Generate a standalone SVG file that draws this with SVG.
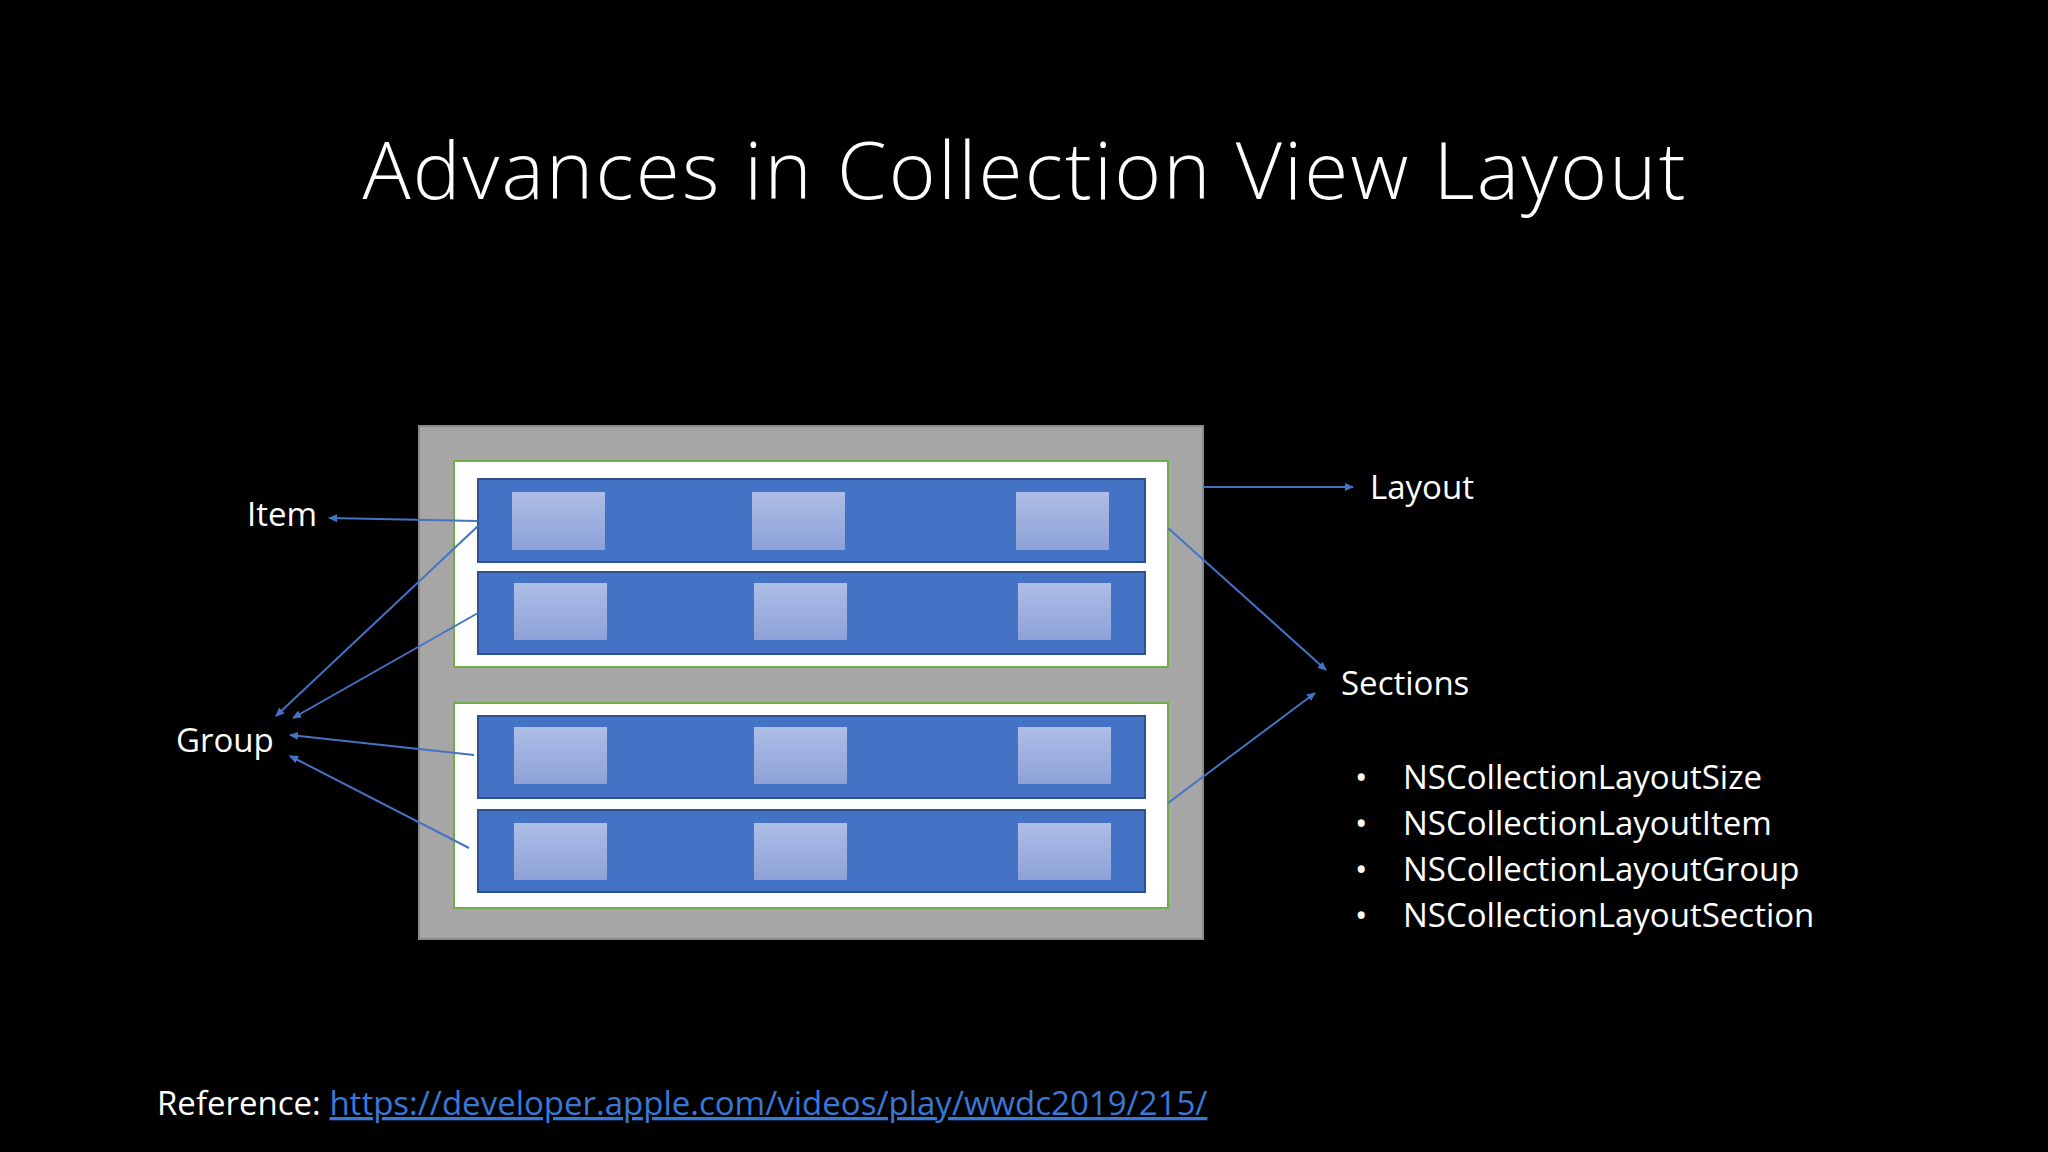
<svg xmlns="http://www.w3.org/2000/svg" width="2048" height="1152" viewBox="0 0 2048 1152">
<defs>
<linearGradient id="ig" x1="0" y1="0" x2="0" y2="1"><stop offset="0" stop-color="#aebde6"/><stop offset="1" stop-color="#8ea2d8"/></linearGradient>
<marker id="ah" markerWidth="10" markerHeight="10" refX="8" refY="5" orient="auto" markerUnits="userSpaceOnUse"><path d="M0,1 L9,5 L0,9 Z" fill="#4472c4"/></marker>
<style>
text{font-family:"Open Sans","Noto Sans",sans-serif;fill:#fff}
.lbl{font-size:33px}
.sec{fill:#fff;stroke:#70ad47;stroke-width:2}
.grp{fill:#4472c4;stroke:#2f528f;stroke-width:2}
.it{fill:url(#ig)}
.c{stroke:#4472c4;stroke-width:2;fill:none;marker-end:url(#ah)}
</style>
</defs>
<rect width="2048" height="1152" fill="#000"/>
<text x="1024" y="199" font-size="80" font-weight="300" text-anchor="middle" textLength="1323">Advances in Collection View Layout</text>
<g id="layout"><rect x="419" y="426" width="784" height="513" fill="#a6a6a6" stroke="#8a8a8a" stroke-width="2"/></g>
<g id="section1"><rect class="sec" x="454" y="461" width="714" height="206"/></g>
<g id="section2"><rect class="sec" x="454" y="703" width="714" height="205"/></g>
<g id="group1"><rect class="grp" x="478" y="479" width="667" height="83"/>
<rect class="it" x="512" y="492" width="93" height="58"/><rect class="it" x="752" y="492" width="93" height="58"/><rect class="it" x="1016" y="492" width="93" height="58"/></g>
<g id="group2"><rect class="grp" x="478" y="572" width="667" height="82"/>
<rect class="it" x="514" y="583" width="93" height="57"/><rect class="it" x="754" y="583" width="93" height="57"/><rect class="it" x="1018" y="583" width="93" height="57"/></g>
<g id="group3"><rect class="grp" x="478" y="716" width="667" height="82"/>
<rect class="it" x="514" y="727" width="93" height="57"/><rect class="it" x="754" y="727" width="93" height="57"/><rect class="it" x="1018" y="727" width="93" height="57"/></g>
<g id="group4"><rect class="grp" x="478" y="810" width="667" height="82"/>
<rect class="it" x="514" y="823" width="93" height="57"/><rect class="it" x="754" y="823" width="93" height="57"/><rect class="it" x="1018" y="823" width="93" height="57"/></g>
<g id="connectors">
<line class="c" x1="478" y1="521" x2="329" y2="518"/>
<line class="c" x1="478" y1="526" x2="276" y2="716"/>
<line class="c" x1="478" y1="613" x2="293" y2="718"/>
<line class="c" x1="474" y1="755" x2="290" y2="735"/>
<line class="c" x1="469" y1="848" x2="290" y2="756"/>
<line class="c" x1="1203" y1="487" x2="1353" y2="487"/>
<line class="c" x1="1168" y1="528" x2="1326" y2="670"/>
<line class="c" x1="1168" y1="803" x2="1315" y2="693"/>
</g>
<g id="labels">
<text class="lbl" x="247" y="526">Item</text>
<text class="lbl" x="176" y="752">Group</text>
<text class="lbl" x="1370" y="499">Layout</text>
<text class="lbl" x="1341" y="695">Sections</text>
</g>
<g id="bullets" class="lbl">
<text class="lbl" x="1355" y="789">•</text><text class="lbl" x="1403" y="789">NSCollectionLayoutSize</text>
<text class="lbl" x="1355" y="835">•</text><text class="lbl" x="1403" y="835">NSCollectionLayoutItem</text>
<text class="lbl" x="1355" y="881">•</text><text class="lbl" x="1403" y="881">NSCollectionLayoutGroup</text>
<text class="lbl" x="1355" y="927">•</text><text class="lbl" x="1403" y="927">NSCollectionLayoutSection</text>
</g>
<text class="lbl" x="157" y="1115">Reference: <tspan fill="#3a78d8" text-decoration="underline">https://developer.apple.com/videos/play/wwdc2019/215/</tspan></text>
</svg>
